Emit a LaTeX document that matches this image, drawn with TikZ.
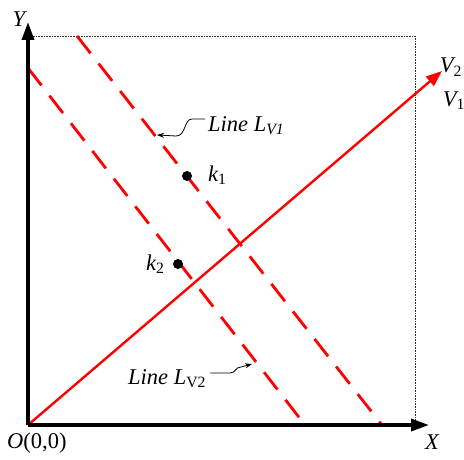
\documentclass[tikz,border=0pt]{standalone}
\usepackage{fontspec}
\setmainfont{Liberation Serif}
\usetikzlibrary{arrows.meta}
\tikzset{
  axis/.style={line width=3.5pt,-{Triangle[length=18pt,width=12pt]}},
  guide/.style={densely dotted,line width=0.6pt,black!80},
  dline/.style={red,line width=2.8pt,dash pattern=on 22pt off 13pt},
  vline/.style={red,line width=2.4pt,-{Triangle[length=16pt,width=12pt]}},
  lbl/.style={font=\fontsize{22.5}{26}\selectfont\itshape,inner sep=0pt},
  leader/.style={black,line width=0.8pt,-{Stealth[length=7pt,width=5pt]}},
  pt/.style={circle,fill=black,inner sep=0pt,minimum size=10pt}
}
\begin{document}
\begin{tikzpicture}[x=1pt,y=-1pt]
\useasboundingbox (0,0) rectangle (464,460);
% coordinates
\coordinate (O) at (28,425);
\coordinate (Ytip) at (28,22);
\coordinate (Xtip) at (429,425);
\coordinate (TL) at (28,36);
\coordinate (TR) at (415,36);
\coordinate (BR) at (415,425);
% guides
\draw[guide] (TL) -- (TR) -- (BR);
% dashed lines
\coordinate (A1) at (77,36);
\coordinate (B1) at (382,425);
\coordinate (A2) at (28,68);
\coordinate (B2) at (305,425);
\draw[dline] (A1) -- (B1);
\draw[dline] (A2) -- (B2);
% vector
\coordinate (Vtip) at (442,71);
\draw[vline] (O) -- (Vtip);
% axes
\draw[axis] (O) -- (Ytip);
\draw[axis] (O) -- (Xtip);
% labels
\node[lbl] (Ylab) at (19,19) {Y};
\node[lbl] (Xlab) at (432,442) {X};
\node[lbl,anchor=west] (Olab) at (7,443) {O\upshape(0,0)};
\node[lbl] (V2lab) at (451,67) {V\textsubscript{\upshape 2}};
\node[lbl] (V1lab) at (454,101) {V\textsubscript{\upshape 1}};
% points
\node[pt] (k1) at (187,176) {};
\node[pt] (k2) at (178,264) {};
\node[lbl,anchor=west] (k1lab) at (208,175) {k\textsubscript{\upshape 1}};
\node[lbl,anchor=west] (k2lab) at (146,264) {k\textsubscript{\upshape 2}};
% line labels
\node[lbl,anchor=west] (L1) at (208,126) {Line L\textsubscript{V1}};
\node[lbl,anchor=west] (L2) at (128,379) {Line L\textsubscript{\upshape V2}};
\coordinate (L1a) at (192,119);
\coordinate (L1b) at (176,136);
\coordinate (L1t) at (157,135);
\draw[leader] (L1.west) ++(-3,-7) coordinate (L1s) -- (L1a) .. controls (184,119) and (186,136) .. (L1b) -- (L1t);
\coordinate (L2a) at (230,373);
\coordinate (L2t) at (252,364);
\draw[leader] (L2.east) ++(4,-6) coordinate (L2s) -- (L2a) .. controls (236,373) and (235,367) .. (241,367) -- (L2t);
\end{tikzpicture}
\end{document}
